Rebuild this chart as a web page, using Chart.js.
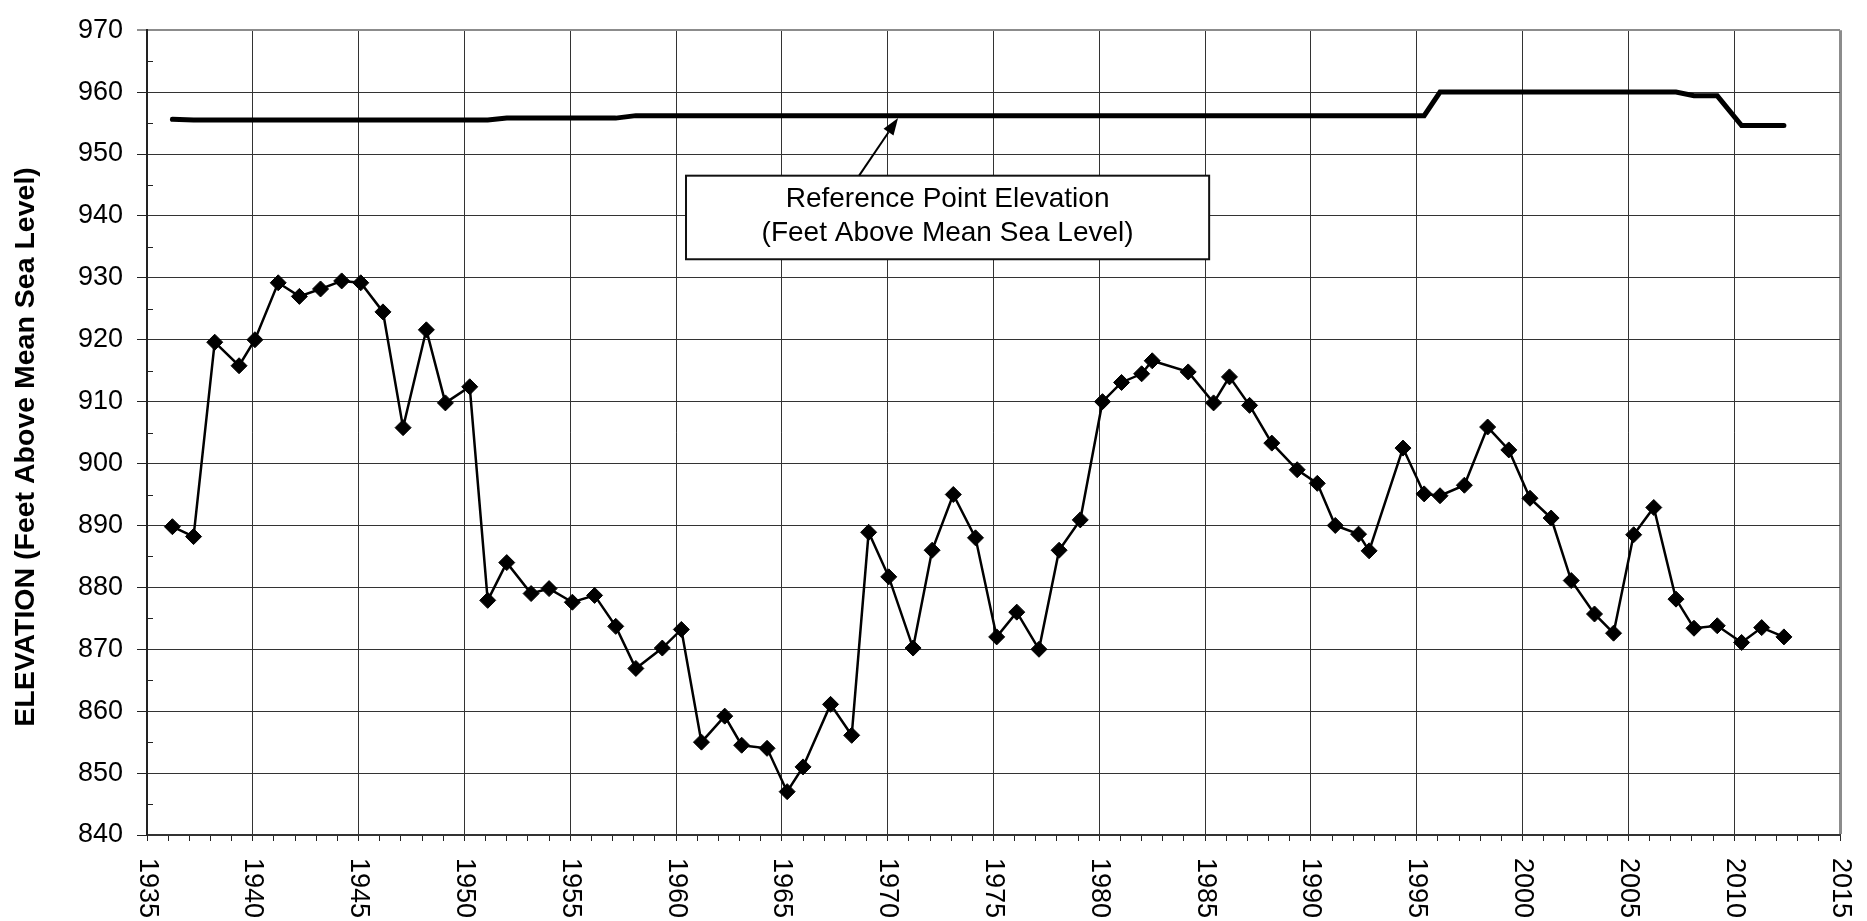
<!DOCTYPE html>
<html>
<head>
<meta charset="utf-8">
<script src="https://cdn.jsdelivr.net/npm/chart.js@4.4.0/dist/chart.umd.min.js"></script>
<style>
  html, body { margin: 0; padding: 0; background: #fff; }
  canvas { display: block; }
</style>
</head>
<body>
<canvas id="chart" width="1867" height="921"></canvas>
<script>
// water level measurements (year, feet above MSL)
const measureYears = [
  1936.2, 1937.2, 1938.2, 1939.35, 1940.1, 1941.2, 1942.2, 1943.2, 1944.2, 1945.1,
  1946.15, 1947.1, 1948.2, 1949.1, 1950.25, 1951.1, 1952.0, 1953.15, 1954.0, 1955.1,
  1956.15, 1957.15, 1958.1, 1959.35, 1960.25, 1961.2, 1962.3, 1963.1, 1964.3, 1965.25,
  1966.0, 1967.3, 1968.3, 1969.1, 1970.05, 1971.2, 1972.1, 1973.1, 1974.15, 1975.15,
  1976.1, 1977.15, 1978.1, 1979.1, 1980.15, 1981.05, 1982.0, 1982.5, 1984.2, 1985.4,
  1986.15, 1987.1, 1988.15, 1989.35, 1990.3, 1991.15, 1992.25, 1992.75, 1994.35, 1995.35,
  1996.1, 1997.25, 1998.35, 1999.35, 2000.35, 2001.35, 2002.3, 2003.4, 2004.3, 2005.25,
  2006.2, 2007.25, 2008.1, 2009.2, 2010.35, 2011.3, 2012.35
];
const waterLevels = [
  889.8, 888.2, 919.6, 915.8, 920.0, 929.2, 927.0, 928.2, 929.5, 929.2,
  924.5, 905.8, 921.6, 909.8, 912.4, 877.9, 884.0, 879.0, 879.8, 877.6,
  878.7, 873.7, 866.9, 870.2, 873.2, 855.0, 859.2, 854.5, 854.0, 847.0,
  851.0, 861.1, 856.1, 888.9, 881.7, 870.2, 886.0, 895.0, 888.0, 872.0,
  876.0, 870.0, 886.0, 890.9, 910.0, 913.1, 914.5, 916.6, 914.8, 909.8,
  914.0, 909.4, 903.3, 899.0, 896.8, 890.0, 888.6, 885.9, 902.5, 895.1,
  894.8, 896.5, 905.9, 902.2, 894.4, 891.2, 881.1, 875.7, 872.6, 888.5,
  892.9, 878.1, 873.4, 873.8, 871.1, 873.5, 872.0
];

// reference point elevation
const refYears = [1936.2, 1937.2, 1951.1, 1952.0, 1957.15, 1958.1, 1995.35, 1996.1, 2007.25, 2008.1, 2009.2, 2010.35, 2012.35];
const refElevations = [955.6, 955.5, 955.5, 955.8, 955.8, 956.2, 956.2, 960.0, 960.0, 959.4, 959.4, 954.6, 954.6];

const xMin = 1935, xMax = 2015;
const yMin = 840, yMax = 970;
const yTitle = 'ELEVATION (Feet Above Mean Sea Level)';
const noteLines = ['Reference Point Elevation', '(Feet Above Mean Sea Level)'];

const FONT = '"Liberation Sans", Arial, sans-serif';

const decorations = {
  id: 'decorations',
  afterDatasetsDraw(chart) {
    const { ctx, chartArea: area, scales: { x, y } } = chart;
    ctx.save();

    // minor y ticks, inside the plot
    ctx.strokeStyle = '#222';
    ctx.lineWidth = 1;
    y.ticks.forEach(t => {
      if (t.value % 10 !== 0) {
        const py = Math.round(y.getPixelForValue(t.value)) + 0.5;
        ctx.beginPath();
        ctx.moveTo(area.left, py);
        ctx.lineTo(area.left + 6, py);
        ctx.stroke();
      }
    });

    // note box
    const bx1 = x.getPixelForValue(1960.47), bx2 = x.getPixelForValue(1985.19);
    const by1 = y.getPixelForValue(946.5), by2 = y.getPixelForValue(933.0);
    ctx.fillStyle = '#fff';
    ctx.fillRect(bx1, by1, bx2 - bx1, by2 - by1);
    ctx.strokeStyle = '#111';
    ctx.lineWidth = 2;
    ctx.strokeRect(bx1, by1, bx2 - bx1, by2 - by1);
    ctx.fillStyle = '#000';
    ctx.font = '28px ' + FONT;
    ctx.textAlign = 'center';
    ctx.textBaseline = 'middle';
    const cx = (bx1 + bx2) / 2;
    ctx.fillText(noteLines[0], cx, y.getPixelForValue(942.75));
    ctx.fillText(noteLines[1], cx, y.getPixelForValue(937.2));

    // arrow to the reference line
    const ax1 = x.getPixelForValue(1968.65), ay1 = by1;
    const ax2 = x.getPixelForValue(1970.49), ay2 = y.getPixelForValue(955.8);
    const ang = Math.atan2(ay2 - ay1, ax2 - ax1);
    const headLen = 17, headW = 6;
    ctx.strokeStyle = '#000';
    ctx.lineWidth = 2;
    ctx.beginPath();
    ctx.moveTo(ax1, ay1);
    ctx.lineTo(ax2 - Math.cos(ang) * headLen, ay2 - Math.sin(ang) * headLen);
    ctx.stroke();
    ctx.beginPath();
    ctx.moveTo(ax2, ay2);
    ctx.lineTo(ax2 - Math.cos(ang) * headLen + Math.sin(ang) * headW, ay2 - Math.sin(ang) * headLen - Math.cos(ang) * headW);
    ctx.lineTo(ax2 - Math.cos(ang) * headLen - Math.sin(ang) * headW, ay2 - Math.sin(ang) * headLen + Math.cos(ang) * headW);
    ctx.closePath();
    ctx.fill();

    ctx.restore();
  },
  afterDraw(chart) {
    const { ctx, chartArea: area, scales: { x } } = chart;
    ctx.save();
    ctx.fillStyle = '#000';

    // year labels, reading downwards
    ctx.font = '27px ' + FONT;
    ctx.textAlign = 'left';
    ctx.textBaseline = 'middle';
    x.ticks.forEach(t => {
      if (t.value % 5 === 0) {
        ctx.save();
        ctx.translate(x.getPixelForValue(t.value), area.bottom + 23);
        ctx.rotate(Math.PI / 2);
        ctx.fillText(String(t.value), 0, 0);
        ctx.restore();
      }
    });

    // y axis title
    ctx.font = 'bold 28.5px ' + FONT;
    ctx.textAlign = 'center';
    ctx.translate(26, 447);
    ctx.rotate(-Math.PI / 2);
    ctx.fillText(yTitle, 0, 0);
    ctx.restore();
  }
};

new Chart(document.getElementById('chart'), {
  type: 'scatter',
  data: {
    datasets: [
      {
        label: 'Reference Point Elevation',
        data: refYears.map((yr, i) => ({ x: yr, y: refElevations[i] })),
        showLine: true,
        borderColor: '#000',
        borderWidth: 5,
        pointRadius: 0,
        tension: 0,
        borderCapStyle: 'round'
      },
      {
        label: 'Water Level',
        data: measureYears.map((yr, i) => ({ x: yr, y: waterLevels[i] })),
        showLine: true,
        borderColor: '#000',
        borderWidth: 2.5,
        backgroundColor: '#000',
        pointStyle: 'rectRot',
        pointRadius: 8,
        pointBorderWidth: 1,
        pointBorderColor: '#000',
        pointBackgroundColor: '#000',
        tension: 0
      }
    ]
  },
  options: {
    responsive: false,
    animation: false,
    devicePixelRatio: 1,
    layout: { autoPadding: false, padding: { top: 21, right: 27, left: 0, bottom: 0 } },
    plugins: {
      legend: { display: false },
      tooltip: { enabled: false }
    },
    scales: {
      x: {
        type: 'linear',
        min: xMin,
        max: xMax,
        afterFit: s => { s.height = 86; },
        ticks: { stepSize: 1, autoSkip: false, display: false },
        border: { color: '#333', width: 2 },
        grid: {
          drawTicks: true,
          tickLength: 6,
          color: c => c.tick.value === xMax ? '#8c8c8c' : (c.tick.value % 5 === 0 ? '#333' : 'rgba(0,0,0,0)'),
          lineWidth: c => c.tick.value === xMax ? 3 : 1,
          tickColor: '#222',
          tickWidth: 1
        }
      },
      y: {
        min: yMin,
        max: yMax,
        afterFit: s => { s.width = 147; },
        ticks: {
          stepSize: 5,
          autoSkip: false,
          padding: 14,
          color: '#000',
          font: { family: FONT, size: 27 },
          callback: v => (v % 10 === 0 ? v : '')
        },
        border: { color: '#222', width: 2 },
        grid: {
          drawTicks: true,
          tickLength: 10,
          color: c => c.tick.value === yMax ? '#8c8c8c' : (c.tick.value % 10 === 0 ? '#333' : 'rgba(0,0,0,0)'),
          lineWidth: c => c.tick.value === yMax ? 2 : 1,
          tickColor: c => c.tick.value % 10 === 0 ? '#222' : 'rgba(0,0,0,0)',
          tickWidth: 1
        }
      }
    }
  },
  plugins: [decorations]
});
</script>
</body>
</html>
